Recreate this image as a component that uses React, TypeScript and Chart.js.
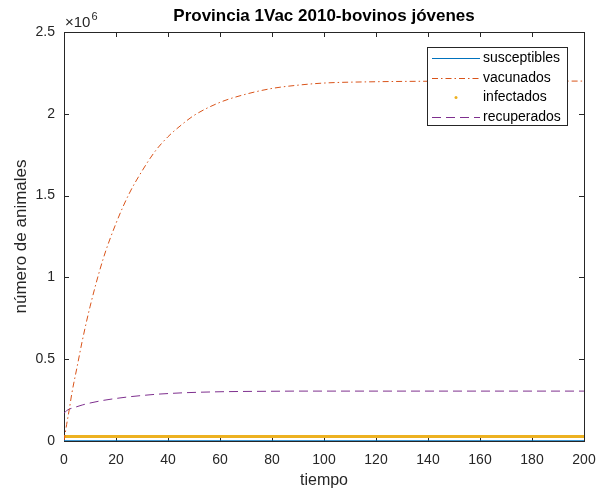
import React, { useEffect, useRef } from "react";
import { Chart, registerables } from "chart.js";

Chart.register(...registerables);

const TITLE = "Provincia 1Vac 2010-bovinos jóvenes";
const X_LABEL = "tiempo";
const Y_LABEL = "número de animales";

const tiempo = [0, 1, 2, 3, 5, 7, 10, 15, 20, 25, 30, 35, 40, 45, 50, 60, 70, 80, 90, 100, 120, 140, 160, 180, 200];
// values in millions of animals
const susceptibles = [0.001, 0.001, 0.001, 0.001, 0.001, 0.001, 0.001, 0.001, 0.001, 0.001, 0.001, 0.001, 0.001, 0.001, 0.001, 0.001, 0.001, 0.001, 0.001, 0.001, 0.001, 0.001, 0.001, 0.001, 0.001];
const vacunados = [0, 0.1, 0.19, 0.29, 0.45, 0.61, 0.82, 1.11, 1.33, 1.51, 1.65, 1.77, 1.86, 1.93, 1.99, 2.07, 2.12, 2.155, 2.175, 2.188, 2.196, 2.199, 2.2, 2.2, 2.2];
const infectados = [0.027, 0.027, 0.027, 0.027, 0.027, 0.027, 0.027, 0.027, 0.027, 0.027, 0.027, 0.027, 0.027, 0.027, 0.027, 0.027, 0.027, 0.027, 0.027, 0.027, 0.027, 0.027, 0.027, 0.027, 0.027];
const recuperados = [0.17, 0.185, 0.195, 0.2, 0.21, 0.22, 0.232, 0.248, 0.26, 0.27, 0.278, 0.285, 0.29, 0.294, 0.297, 0.301, 0.303, 0.304, 0.305, 0.305, 0.305, 0.305, 0.305, 0.305, 0.305];

const X_TICKS = [0, 20, 40, 60, 80, 100, 120, 140, 160, 180, 200];
const Y_TICKS = [0, 0.5, 1, 1.5, 2, 2.5];

const FONT = "'Liberation Sans', Arial, Helvetica, sans-serif";
const AX = "#262626";

const pts = (vals: number[]) => tiempo.map((t, i) => ({ x: t, y: vals[i] * 1e6 }));

const decor = {
  id: "matlabDecor",
  beforeDatasetsDraw(chart: any) {
    const { ctx, chartArea: a, scales } = chart;
    ctx.save();
    ctx.strokeStyle = AX;
    ctx.lineWidth = 1;
    ctx.beginPath();
    for (const v of X_TICKS) {
      const x = Math.round(scales.x.getPixelForValue(v)) + 0.5;
      ctx.moveTo(x, a.bottom); ctx.lineTo(x, a.bottom - 5);
      ctx.moveTo(x, a.top); ctx.lineTo(x, a.top + 5);
    }
    for (const v of Y_TICKS) {
      const y = Math.round(scales.y.getPixelForValue(v * 1e6)) + 0.5;
      ctx.moveTo(a.left, y); ctx.lineTo(a.left + 5, y);
      ctx.moveTo(a.right, y); ctx.lineTo(a.right - 5, y);
    }
    ctx.stroke();
    ctx.strokeRect(Math.round(a.left) + 0.5, Math.round(a.top) + 0.5, Math.round(a.right - a.left), Math.round(a.bottom - a.top));
    ctx.restore();
  },
  afterDraw(chart: any) {
    const { ctx, chartArea: a } = chart;
    ctx.save();
    ctx.fillStyle = "#000";
    ctx.font = `bold 17px ${FONT}`;
    ctx.textAlign = "center";
    ctx.textBaseline = "alphabetic";
    ctx.fillText(TITLE, (a.left + a.right) / 2, 21);

    ctx.fillStyle = AX;
    ctx.font = `16px ${FONT}`;
    ctx.textBaseline = "middle";
    ctx.fillText(X_LABEL, (a.left + a.right) / 2, 481);
    ctx.save();
    ctx.translate(21, (a.top + a.bottom) / 2);
    ctx.rotate(-Math.PI / 2);
    ctx.font = `17px ${FONT}`;
    ctx.fillText(Y_LABEL, 0, 0);
    ctx.restore();

    // exponent
    ctx.textAlign = "left";
    ctx.textBaseline = "alphabetic";
    ctx.font = `15px ${FONT}`;
    ctx.fillText("×10", 65, 27);
    const w = ctx.measureText("×10").width;
    ctx.font = `11px ${FONT}`;
    ctx.fillText("6", 65 + w + 1, 20);

    // legend
    const lx = 427, ly = 47, lw = 140, lh = 78;
    ctx.fillStyle = "#fff";
    ctx.fillRect(lx, ly, lw, lh);
    ctx.strokeStyle = AX;
    ctx.lineWidth = 1;
    ctx.strokeRect(lx + 0.5, ly + 0.5, lw, lh);
    const rows = [58, 78, 97, 117];
    chart.data.datasets.forEach((ds: any, i: number) => {
      const y = rows[i] + 0.5;
      ctx.strokeStyle = ds.borderColor;
      ctx.lineWidth = 1;
      if (ds.legendDot) {
        ctx.fillStyle = ds.borderColor;
        ctx.beginPath();
        ctx.arc(456, y, 1.5, 0, Math.PI * 2);
        ctx.fill();
      } else {
        ctx.setLineDash(ds.borderDash || []);
        ctx.beginPath();
        ctx.moveTo(432, y);
        ctx.lineTo(480, y);
        ctx.stroke();
        ctx.setLineDash([]);
      }
      ctx.fillStyle = "#000";
      ctx.font = `14px ${FONT}`;
      ctx.textBaseline = "middle";
      ctx.fillText(ds.label, 483, y);
    });
    ctx.restore();
  },
};

export default function App() {
  const ref = useRef<HTMLCanvasElement | null>(null);
  useEffect(() => {
    document.body.style.margin = "0";
    const chart = new Chart(ref.current as HTMLCanvasElement, {
      type: "line",
      data: {
        datasets: [
          { label: "susceptibles", data: pts(susceptibles), borderColor: "#0072BD", borderWidth: 1.2, pointRadius: 0 },
          { label: "vacunados", data: pts(vacunados), borderColor: "#D95319", borderWidth: 1, borderDash: [6, 3, 1.5, 3], pointRadius: 0, cubicInterpolationMode: "monotone" },
          { label: "infectados", data: pts(infectados), borderColor: "#EDB120", borderWidth: 3, pointRadius: 0, legendDot: true },
          { label: "recuperados", data: pts(recuperados), borderColor: "#7E2F8E", borderWidth: 1, borderDash: [9, 5], pointRadius: 0, cubicInterpolationMode: "monotone" },
        ] as any,
      },
      options: {
        animation: false,
        responsive: false,
        maintainAspectRatio: false,
        layout: { padding: { left: 0, right: 14, top: 32, bottom: 0 } },
        plugins: { legend: { display: false }, title: { display: false }, tooltip: { enabled: false } },
        scales: {
          x: {
            type: "linear",
            min: 0,
            max: 200,
            grid: { display: false, drawTicks: false },
            border: { display: false },
            afterFit: (s: any) => { s.height = 52; s.paddingLeft = 0; s.paddingRight = 0; },
            afterBuildTicks: (s: any) => { s.ticks = X_TICKS.map((v) => ({ value: v })); },
            ticks: { color: AX, font: { family: FONT, size: 14 }, padding: 11, maxRotation: 0, autoSkip: false },
          },
          y: {
            type: "linear",
            min: 0,
            max: 2.5e6,
            grid: { display: false, drawTicks: false },
            border: { display: false },
            afterFit: (s: any) => { s.width = 64; s.paddingTop = 0; s.paddingBottom = 0; },
            afterBuildTicks: (s: any) => { s.ticks = Y_TICKS.map((v) => ({ value: v * 1e6 })); },
            ticks: { color: AX, font: { family: FONT, size: 14 }, padding: 9, callback: (v: any) => String(Number(v) / 1e6) },
          },
        },
      } as any,
      plugins: [decor],
    });
    return () => chart.destroy();
  }, []);
  return (
    <div style={{ position: "fixed", left: 0, top: 0, width: 598, height: 493, background: "#fff" }}>
      <canvas ref={ref} width={598} height={493} style={{ width: 598, height: 493, display: "block" }} />
    </div>
  );
}
